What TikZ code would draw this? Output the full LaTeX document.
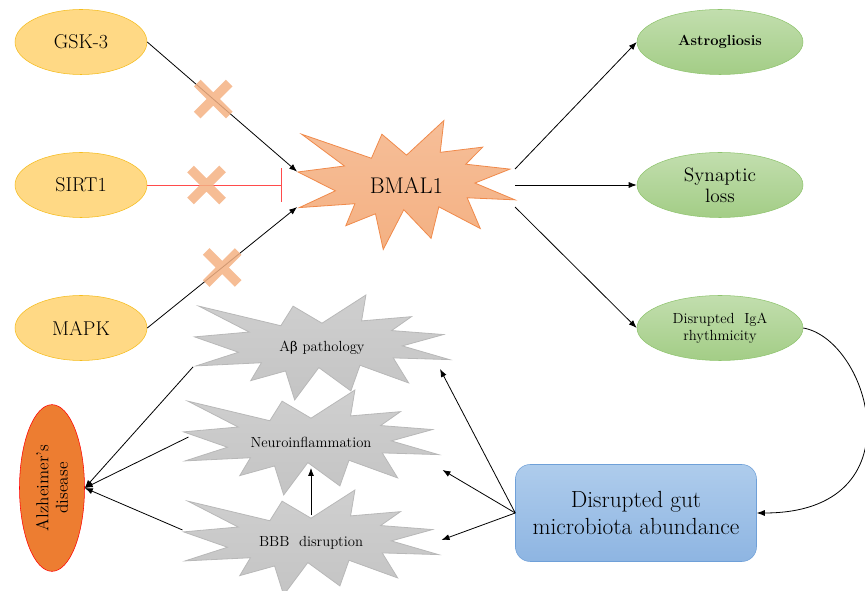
\documentclass[tikz,border=0pt]{standalone}
\usepackage{fontspec}
\newfontfamily\greekfont{DejaVu Serif}
\usetikzlibrary{shapes,arrows,arrows.meta,positioning,calc}

\definecolor{goldfill}{HTML}{FFD985}
\definecolor{goldline}{HTML}{F5BC1C}
\definecolor{leaftop}{HTML}{C2DEAE}
\definecolor{leafbot}{HTML}{A3CD86}
\definecolor{leafline}{HTML}{8FC46E}
\definecolor{peach}{HTML}{F4B183}
\definecolor{peachtop}{HTML}{F6BE98}
\definecolor{peachline}{HTML}{F08A4B}
\definecolor{ashtop}{HTML}{CFCFCF}
\definecolor{ashbot}{HTML}{C4C4C4}
\definecolor{ashline}{HTML}{B8B8B8}
\definecolor{skytop}{HTML}{AECCEC}
\definecolor{skybot}{HTML}{8EB5E2}
\definecolor{skyline}{HTML}{6FA0D8}
\definecolor{adfill}{HTML}{ED7D31}
\definecolor{inhib}{HTML}{FF4B4B}

% explosion outline round a named coordinate
\newcommand{\explosion}[2]{%
  \path[shift={(#1)}, #2] (0,-50) -- (37.22,-108) -- (33.55,-54.75) -- (75.8,-63.43)
    -- (59.02,-34.85) -- (102.97,-26.63) -- (68.07,-3.25) -- (108,24.9) -- (60.37,21.42)
    -- (73.45,72.95) -- (32.2,36.57) -- (24.47,89.37) -- (-2.68,41.35) -- (-23.15,108)
    -- (-30.85,48.27) -- (-60.38,68.17) -- (-51.33,31.37) -- (-106.65,37.87) -- (-70.78,9.75)
    -- (-108,-21.85) -- (-61.73,-31.83) -- (-104.3,-85.05) -- (-34.88,-44.8) -- (-24.48,-85.05)
    -- cycle;}

\begin{document}
\begin{tikzpicture}[
    x=0.75pt, y=-0.75pt,
    node distance=107.25pt,
    factor/.style={ellipse, draw=goldline, fill=goldfill, minimum width=99pt, minimum height=48.75pt, font=\fontsize{15}{17}\selectfont},
    outcome/.style={ellipse, draw=leafline, top color=leaftop, bottom color=leafbot, minimum width=124.5pt, minimum height=48.75pt, align=center, inner sep=1pt},
    burst/.style={align=center, font=\fontsize{11}{13}\selectfont},
    grayburst/.style={draw=ashline, top color=ashtop, bottom color=ashbot, line width=0.6pt, xscale=1.18, yscale=0.486},
    block/.style={rectangle, rounded corners=11pt, draw=skyline, top color=skytop, bottom color=skybot, minimum width=180.75pt, minimum height=72.75pt, align=center, font=\fontsize{17.5}{20}\selectfont},
    arrow/.style={-{Latex[length=6pt,width=4.5pt]}, line width=0.6pt},
    blocked/.style={cross out, draw=peach, line width=7pt, minimum size=17pt, inner sep=0pt, opacity=.85}
]
    \useasboundingbox (0,0) rectangle (865,591);

    % star outlines first
    \coordinate (bmalpos) at (406.5,185);
    \coordinate (abetapos) at (322,347.5);
    \coordinate (neuropos) at (311,442.5);
    \coordinate (bbbpos) at (311,542.5);
    \begin{scope}
        \explosion{bmalpos}{draw=peachline, top color=peachtop, bottom color=peach, line width=0.6pt, xscale=1.005, yscale=0.597}
        \explosion{abetapos}{grayburst}
        \explosion{neuropos}{grayburst}
        \explosion{bbbpos}{grayburst}
    \end{scope}

    % upstream regulators
    \node[factor] (gsk) at (81,42) {GSK-3};
    \node[factor, below of=gsk] (sirt) {SIRT1};
    \node[factor, below of=sirt] (mapk) {MAPK};

    \node[burst, font=\fontsize{17}{19}\selectfont] (bmal) at (bmalpos) {BMAL1};

    % downstream effects
    \node[outcome, font=\fontsize{11}{13}\selectfont\bfseries] (astro) at (720,42) {Astrogliosis};
    \node[outcome, below of=astro, font=\fontsize{14.5}{16}\selectfont] (syn) {Synaptic\\loss};
    \node[outcome, below of=syn, font=\fontsize{11}{13}\selectfont] (iga) {Disrupted~~IgA\\rhythmicity};

    \node[block] (gut) at (636,513) {Disrupted gut\\microbiota abundance};

    \node[burst] (abeta) at (abetapos) {A{\greekfont\fontsize{10}{13}\selectfont β} pathology};
    \node[burst] (neuro) at (neuropos) {Neuroinflammation};
    \node[burst] (bbb) at (bbbpos) {BBB~~disruption};

    \node[ellipse, rotate=90, draw=red, fill=adfill, minimum width=125pt, minimum height=48.75pt,
          align=center, font=\fontsize{13}{14.5}\selectfont, inner sep=1pt] (ad) at (52,488) {Alzheimer’s\\disease};

    \draw[arrow] (gsk.east) -- node[blocked, pos=.44] (cut1) {} ([xshift=-82pt,yshift=10pt]bmal.center);
    \draw[color=inhib, line width=0.6pt, -{Bar[width=25pt]}] (sirt.east) -- ([xshift=-93.4pt]bmal.center);
    \node[blocked] (cut2) at ($(sirt.east)!.44!([xshift=-93.4pt]bmal.center)$) {};
    \draw[arrow] (mapk.east) -- node[blocked, pos=.5] (cut3) {} ([xshift=-82pt,yshift=-16.5pt]bmal.center);

    \draw[arrow] ([xshift=81.4pt,yshift=12pt]bmal.center) -- (astro.west);
    \draw[arrow] ([xshift=81.4pt]bmal.center) -- (syn.west);
    \draw[arrow] ([xshift=81.4pt,yshift=-16.5pt]bmal.center) -- (iga.west);

    \draw[arrow] (iga.east) .. controls (870,340) and (920,513) .. (gut.east);

    \draw[arrow] (gut.west) -- ([xshift=88.5pt,yshift=-16.1pt]abeta.center);
    \draw[arrow] (gut.west) -- ([xshift=98.6pt,yshift=-20.6pt]neuro.center);
    \draw[arrow] (gut.west) -- ([xshift=97.9pt,yshift=1.9pt]bbb.center);

    \draw[arrow] ([yshift=20.6pt]bbb.center) -- ([yshift=-19.1pt]neuro.center);

    \draw[arrow] ([xshift=-96.75pt,yshift=-14.6pt]abeta.center) -- (ad.south);
    \draw[arrow] ([xshift=-91.9pt,yshift=4.1pt]neuro.center) -- (ad.south);
    \draw[arrow] ([xshift=-96.4pt,yshift=9.4pt]bbb.center) -- (ad.south);
\end{tikzpicture}
\end{document}
